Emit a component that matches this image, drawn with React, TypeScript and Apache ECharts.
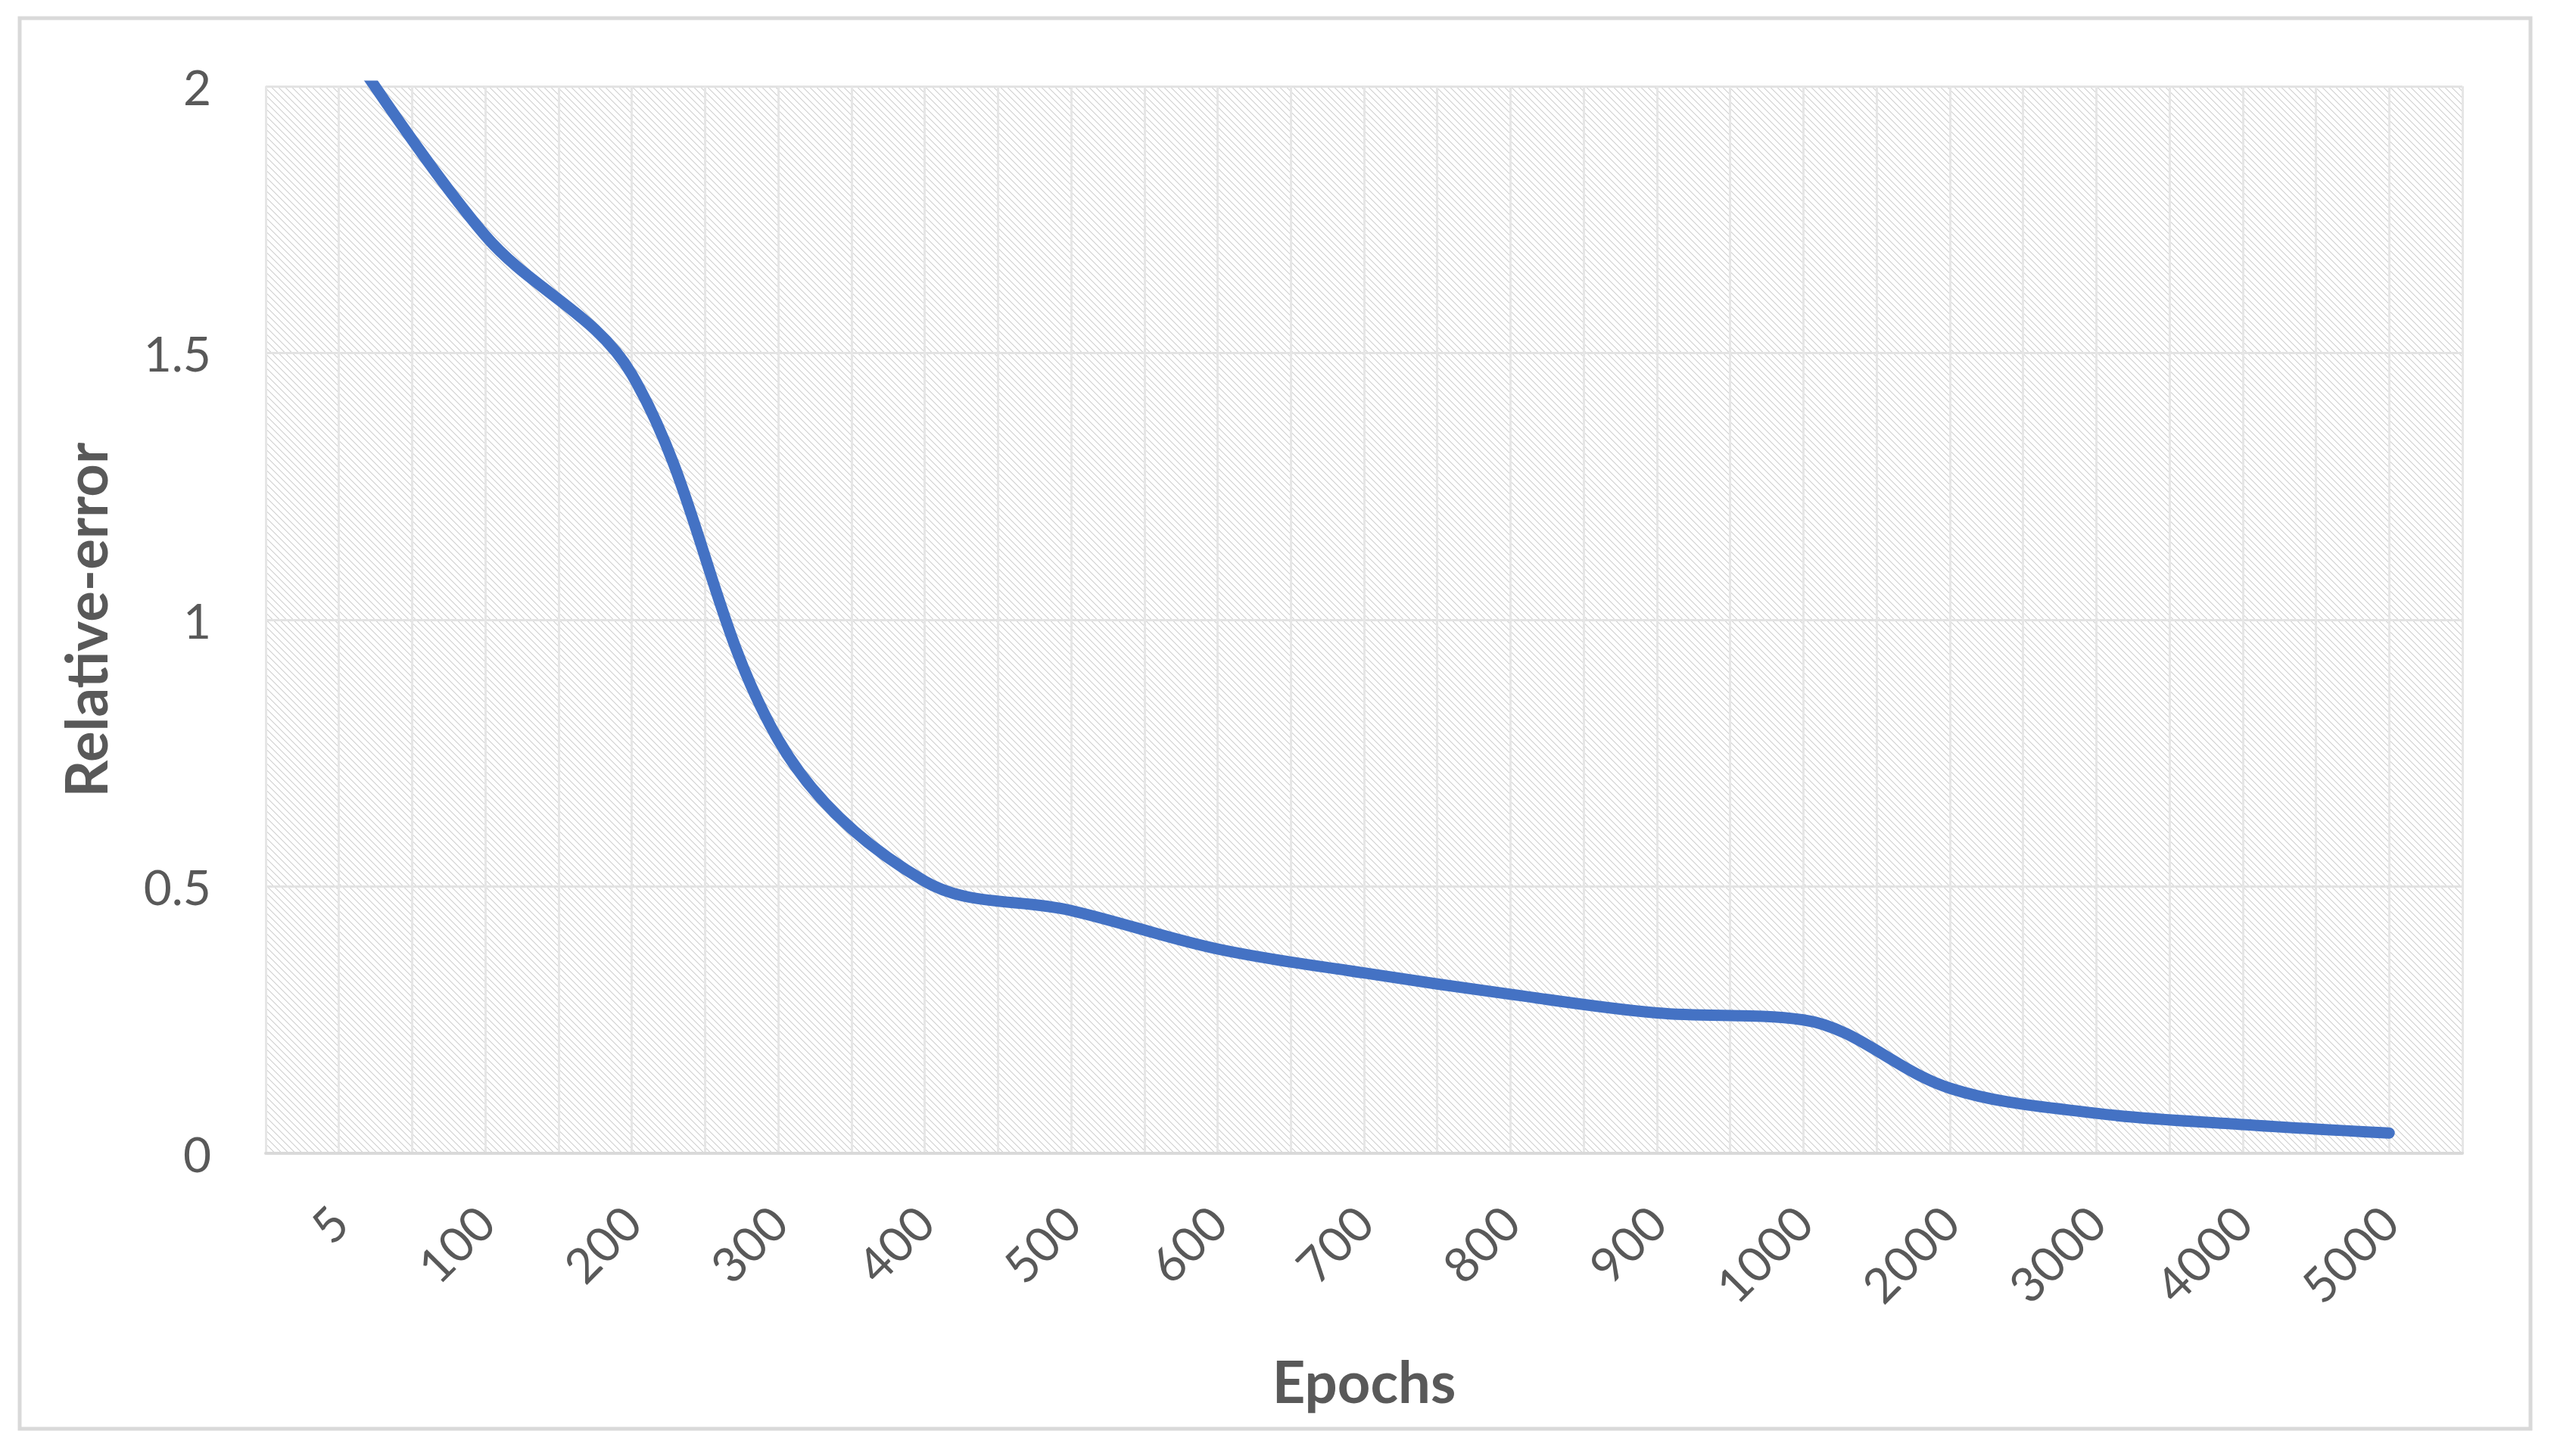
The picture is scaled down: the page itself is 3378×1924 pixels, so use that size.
import React, { useEffect, useRef } from "react";
import * as echarts from "echarts";

// ---- data ----
const epochs: string[] = ["5", "100", "200", "300", "400", "500", "600", "700", "800", "900", "1000", "2000", "3000", "4000", "5000"];
const relativeError: number[] = [2.1, 1.72, 1.46, 0.775, 0.51, 0.455, 0.383, 0.338, 0.298, 0.263, 0.25, 0.122, 0.075, 0.054, 0.038];
const yMin = 0;
const yMax = 2;
const yStep = 0.5;
const xAxisTitle = "Epochs";
const yAxisTitle = "Relative-error";

const FONT = "Lato, 'Open Sans', sans-serif";
const TEXT = "#595959";

function makeHatch(): HTMLCanvasElement {
  const s = 9;
  const c = document.createElement("canvas");
  c.width = s;
  c.height = s;
  const ctx = c.getContext("2d")!;
  ctx.fillStyle = "#ffffff";
  ctx.fillRect(0, 0, s, s);
  ctx.fillStyle = "#dcdcdc";
  for (let y = 0; y < s; y++) {
    for (let x = 0; x < s; x++) {
      if ((((x - y) % s) + s) % s < 2) ctx.fillRect(x, y, 1, 1);
    }
  }
  return c;
}

export default function App() {
  const ref = useRef<HTMLDivElement>(null);

  useEffect(() => {
    if (!ref.current) return;
    const chart = echarts.init(ref.current, undefined, { renderer: "svg" });
    const hatch = makeHatch();
    const gridCount = epochs.length * 2; // half-category vertical gridlines

    chart.setOption({
      animation: false,
      backgroundColor: "#ffffff",
      textStyle: { fontFamily: FONT },
      graphic: [
        {
          type: "rect",
          silent: true,
          shape: { x: 26, y: 24, width: 3317, height: 1864 },
          style: { fill: "none", stroke: "#d9d9d9", lineWidth: 5 },
        },
      ],
      grid: {
        left: 351,
        right: 125,
        top: 114,
        bottom: 400,
        show: true,
        borderWidth: 0,
        backgroundColor: { image: hatch, repeat: "repeat" },
      },
      xAxis: [
        {
          type: "category",
          data: epochs,
          boundaryGap: true,
          name: xAxisTitle,
          nameLocation: "middle",
          nameGap: 262,
          nameTextStyle: { fontFamily: FONT, fontSize: 76, fontWeight: "bold", color: TEXT },
          axisLine: { show: true, lineStyle: { color: "#d9d9d9", width: 4 } },
          axisTick: { show: false },
          splitLine: { show: false },
          axisLabel: {
            interval: 0,
            rotate: 45,
            margin: 80,
            fontSize: 64,
            fontFamily: FONT,
            color: TEXT,
          },
          z: 3,
        },
        {
          type: "value",
          min: 0,
          max: gridCount,
          interval: 1,
          position: "bottom",
          axisLine: { show: false },
          axisTick: { show: false },
          axisLabel: { show: false },
          splitLine: { show: true, lineStyle: { color: "#e6e6e6", width: 3 } },
        },
      ],
      yAxis: {
        type: "value",
        min: yMin,
        max: yMax,
        interval: yStep,
        name: yAxisTitle,
        nameLocation: "middle",
        nameGap: 201,
        nameTextStyle: { fontFamily: FONT, fontSize: 76, fontWeight: "bold", color: TEXT },
        axisLine: { show: false },
        axisTick: { show: false },
        axisLabel: { margin: 72, fontSize: 64, fontFamily: FONT, color: TEXT },
        splitLine: { show: true, lineStyle: { color: "#e3e3e3", width: 3 } },
      },
      series: [
        {
          type: "line",
          xAxisIndex: 0,
          data: relativeError,
          smooth: 0.35,
          showSymbol: false,
          symbol: "none",
          clip: true,
          lineStyle: { color: "#4472C4", width: 15, cap: "round", join: "round" },
          z: 5,
        },
      ],
    });

    return () => chart.dispose();
  }, []);

  return (
    <div
      ref={ref}
      style={{ position: "absolute", left: 0, top: 0, width: 3378, height: 1924 }}
    />
  );
}
